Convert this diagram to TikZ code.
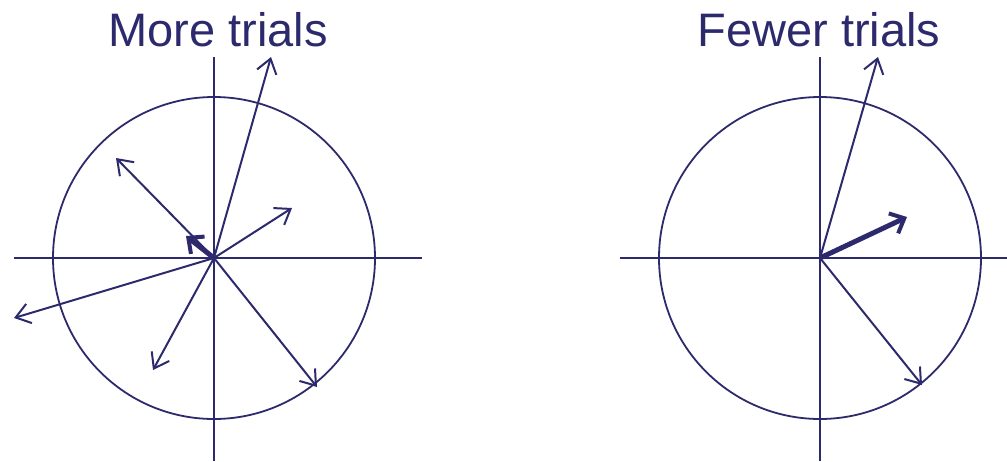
\documentclass[tikz,border=0pt]{standalone}
\usepackage{fontspec}
\setmainfont{Liberation Sans}
\usetikzlibrary{arrows.meta}
\definecolor{navy}{HTML}{2C2A6C}
\tikzset{
  vec/.style={navy, line width=2pt, -{Straight Barb[length=14pt, width=20pt, line width=2pt]}},
  bigvec/.style={navy, line width=5pt, -{Straight Barb[length=12pt, width=22pt, line width=4pt]}},
  axis/.style={navy, line width=1.8pt},
  title/.style={navy, font=\fontsize{47}{50}\selectfont, anchor=base}
}
\begin{document}
\begin{tikzpicture}[x=1pt, y=-1pt]
		\useasboundingbox (0, 0) rectangle (1007, 461);
		% left: more trials
		\coordinate (o1) at (214, 258);
		\node [title] (t1) at (218, 46) {More trials};
		\draw [axis] (14, 258) -- (422, 258);
		\draw [axis] (214, 57) -- (214, 461);
		\draw [axis] (o1) circle (161);
		\coordinate (a1) at (271, 57);
		\coordinate (a2) at (116, 158);
		\coordinate (a3) at (292, 208);
		\coordinate (a4) at (14, 318);
		\coordinate (a5) at (153, 370);
		\coordinate (a6) at (317, 387);
		\coordinate (s1) at (186, 236);
		\foreach \p in {a1, a2, a3, a4, a5, a6}
			\draw [vec] (o1) -- (\p);
		\draw [bigvec] (o1) -- (s1);
		% right: fewer trials
		\coordinate (o2) at (820, 258);
		\node [title] (t2) at (819, 46) {Fewer trials};
		\draw [axis] (620, 258) -- (1007, 258);
		\draw [axis] (820, 57) -- (820, 461);
		\draw [axis] (o2) circle (161);
		\coordinate (b1) at (878, 57);
		\coordinate (b2) at (922, 385);
		\coordinate (s2) at (907, 217);
		\foreach \p in {b1, b2}
			\draw [vec] (o2) -- (\p);
		\draw [bigvec] (o2) -- (s2);
	\end{tikzpicture}
\end{document}
